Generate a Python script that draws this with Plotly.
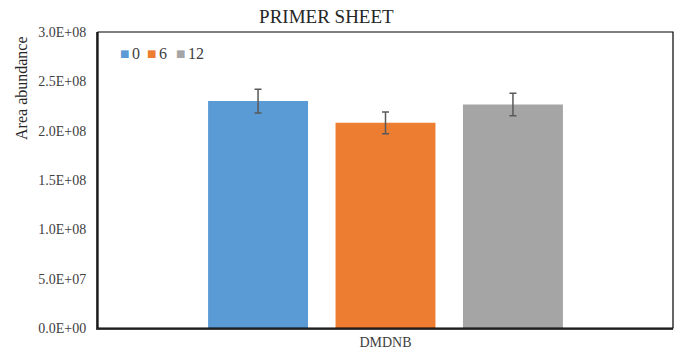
import plotly.graph_objects as go

categories = ["DMDNB"]
series_names = ["0", "6", "12"]
series_values = [[2.30e8], [2.08e8], [2.265e8]]
series_errors = [[1.2e7], [1.1e7], [1.15e7]]
series_colors = ["#5B9BD5", "#ED7D31", "#A5A5A5"]

y_tickvals = [0, 5e7, 1e8, 1.5e8, 2e8, 2.5e8, 3e8]
y_ticktext = ["0.0E+00", "5.0E+07", "1.0E+08", "1.5E+08", "2.0E+08", "2.5E+08", "3.0E+08"]

font_family = "Liberation Serif"
plot_left, plot_right, plot_top, plot_bottom = 98, 673, 32, 328

fig = go.Figure()
for name, vals, errs, color in zip(series_names, series_values, series_errors, series_colors):
    fig.add_trace(go.Bar(
        x=categories, y=vals, name=name,
        marker=dict(color=color, line=dict(width=0)),
        error_y=dict(type="data", array=errs, visible=True,
                     color="#595959", thickness=1.5, width=3.5),
        showlegend=False,
    ))

# compact legend in the upper-left corner of the plot area
legend_square_px = [119, 146, 175]
for name, color, px in zip(series_names, series_colors, legend_square_px):
    fig.add_annotation(xref="paper", yref="paper", x=0, y=0.929, xanchor="left", yanchor="middle",
                       xshift=px - plot_left - 1, text="■", showarrow=False,
                       font=dict(family="DejaVu Sans", size=10, color=color))
    fig.add_annotation(xref="paper", yref="paper", x=0, y=0.929, xanchor="left", yanchor="middle",
                       xshift=px - plot_left + 11, text=name, showarrow=False,
                       font=dict(family=font_family, size=16, color="#404040"))

# y-axis title sits near the top of the axis
fig.add_annotation(xref="paper", yref="paper", x=0, y=0.811, xanchor="center", yanchor="middle",
                   xshift=22 - plot_left, text="Area abundance", textangle=-90, showarrow=False,
                   font=dict(family=font_family, size=16, color="#262626"))

fig.update_layout(
    width=680, height=358,
    margin=dict(l=plot_left, r=680 - plot_right, t=plot_top, b=358 - plot_bottom),
    paper_bgcolor="white", plot_bgcolor="white",
    font=dict(family=font_family, size=14, color="#404040"),
    barmode="group", bargap=0.335, bargroupgap=0.216,
    title=dict(text="PRIMER SHEET", x=0.48, xanchor="center", y=0.955, yanchor="middle",
               font=dict(family=font_family, size=19, color="#262626")),
    showlegend=False,
)
fig.update_xaxes(showline=True, linecolor="#404040", linewidth=2, mirror=False,
                 ticks="", tickfont=dict(family=font_family, size=14, color="#404040"),
                 showgrid=False)
fig.update_yaxes(range=[0, 3e8], tickvals=y_tickvals, ticktext=y_ticktext,
                 showline=True, linecolor="#404040", linewidth=2, mirror=False,
                 ticks="", showgrid=False, ticklabelstandoff=7,
                 tickfont=dict(family=font_family, size=14, color="#404040"))
# thin frame around the plot area
fig.add_shape(type="rect", xref="paper", yref="paper", x0=0, y0=0, x1=1, y1=1,
              line=dict(color="black", width=1.2), fillcolor="rgba(0,0,0,0)", layer="above")

fig.write_html("out.html")
